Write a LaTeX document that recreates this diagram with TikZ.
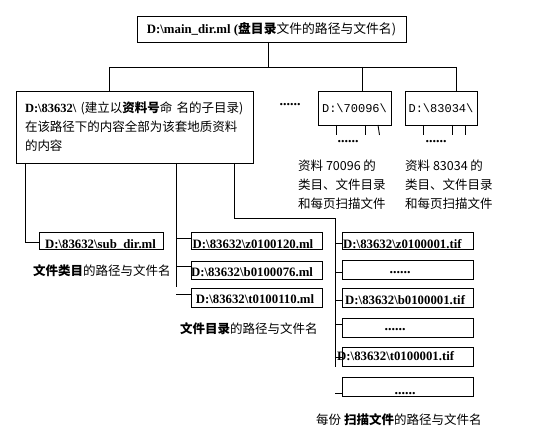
\documentclass[tikz,border=0pt]{standalone}
\usepackage{fontspec}
\setmainfont{Liberation Serif}
\newfontfamily\cjk{Noto Sans CJK SC}
\newfontfamily\monof{Liberation Mono}
\newcommand\bs{\textbackslash}
\begin{document}
\begin{tikzpicture}[x=1pt,y=-1pt,
  bx/.style={draw, line width=0.9pt, inner sep=0pt, outer sep=0pt},
  ln/.style={line width=0.9pt},
  lat/.style={font=\fontsize{12.8}{15}\selectfont\bfseries, inner sep=0pt},
  zh/.style={font=\fontsize{12.5}{19}\selectfont\cjk, inner sep=0pt, align=left},
  dts/.style={font=\fontsize{14}{15}\selectfont\bfseries, inner sep=0pt},
]
\useasboundingbox (0,0) rectangle (558,435);

% top box
\node[bx, minimum width=269pt, minimum height=26pt, font=\fontsize{12.8}{15}\selectfont] (top) at (271.5,29)
  {\textbf{D:\bs main\_dir.ml (}{\cjk\bfseries 盘目录}{\cjk 文件的路径与文件名)}};

% directory box
\node[bx, minimum width=237pt, minimum height=72pt, align=left, text width=219pt,
      font=\fontsize{12.5}{19}\selectfont] (dir) at (134.5,127)
  {\textbf{D:\bs 83632\bs}~{\cjk (建立以\textbf{资料号}命~名的子目录)}\\
   {\cjk 在该路径下的内容全部为该套地质资料}\\
   {\cjk 的内容}};

\node[bx, minimum width=73pt, minimum height=34pt, font=\monof\fontsize{12}{14}\selectfont] (d70) at (354.5,108) {D:\bs 70096\bs};
\node[bx, minimum width=72pt, minimum height=34pt, font=\monof\fontsize{12}{14}\selectfont] (d83) at (441,108) {D:\bs 83034\bs};

\node[dts] (dots0) at (290,105) {......};

% bus
\coordinate (busT) at (268,42);
\coordinate (busL) at (109,67);
\coordinate (busR) at (456,67);
\coordinate (bus70) at (362,67);
\draw[ln] (busT) -- (busT |- busL);
\draw[ln] (busL) -- (busR);
\draw[ln] (busL) -- (busL |- dir.north);
\draw[ln] (bus70) -- (bus70 |- d70.north);
\draw[ln] (busR) -- (busR |- d83.north);

% stubs below the other directories
\draw[ln] ([xshift=-18.5pt]d70.south) -- ++(0,10);
\draw[ln] ([xshift=10.5pt]d70.south) -- ++(0,10);
\draw[ln] ([xshift=23.5pt]d70.south) -- ++(1.5,10);
\draw[ln] ([xshift=-18pt]d83.south) -- ++(0,10);
\draw[ln] ([xshift=11pt]d83.south) -- ++(0,10);
\draw[ln] ([xshift=24pt]d83.south) -- ++(0,10);
\node[dts] (dots70) at (348,142) {......};
\node[dts] (dots83) at (436,142) {......};

\node[zh, anchor=west] (t70) at (298,185) {资料 70096 的\\类目、文件目录\\和每页扫描文件};
\node[zh, anchor=west] (t83) at (405,185) {资料 83034 的\\类目、文件目录\\和每页扫描文件};

% sub_dir
\node[bx, minimum width=124pt, minimum height=17pt] (sd) at (101,240.5) {};
\node[lat, anchor=base] (sdt) at (100.5,249) {D:\bs 83632\bs sub\_dir.ml};
\node[zh, anchor=west] (cap1) at (33,271) {\textbf{文件类目}的路径与文件名};

% ml boxes
\node[bx, minimum width=131pt, minimum height=17pt] (mlz) at (256.5,240.5) {};
\node[bx, minimum width=131pt, minimum height=18pt] (mlb) at (256.5,270) {};
\node[bx, minimum width=131pt, minimum height=19pt] (mlt) at (256.5,297.5) {};
\node[lat, anchor=base] (mlzt) at (253,249) {D:\bs 83632\bs z0100120.ml};
\node[lat, anchor=base] (mlbt) at (252,277) {D:\bs 83632\bs b0100076.ml};
\node[lat, anchor=base] (mltt) at (255,304) {D:\bs 83632\bs t0100110.ml};
\node[zh, anchor=west] (cap2) at (180,329) {\textbf{文件目录}的路径与文件名};

% tif boxes
\node[bx, minimum width=131pt, minimum height=17pt] (tz) at (407.5,240.5) {};
\node[bx, minimum width=131pt, minimum height=19pt] (tzd) at (407.5,269.5) {};
\node[bx, minimum width=131pt, minimum height=19pt] (tb) at (407.5,297.5) {};
\node[bx, minimum width=131pt, minimum height=19pt] (tbd) at (407.5,327.5) {};
\node[bx, minimum width=131pt, minimum height=19pt] (tt) at (407.5,356.5) {};
\node[bx, minimum width=131pt, minimum height=19pt] (ttd) at (407.5,386.5) {};
\node[lat, anchor=base west] (tzt) at (343,249) {D:\bs 83632\bs z0100001.tif};
\node[lat, anchor=base west] (tbt) at (345,305) {D:\bs 83632\bs b0100001.tif};
\node[lat, anchor=base west] (ttt) at (337,361) {D:\bs 83632\bs t0100001.tif};
\node[dts, anchor=base] (tzdt) at (400,273.5) {......};
\node[dts, anchor=base] (tbdt) at (395,330.5) {......};
\node[dts, anchor=base] (ttdt) at (405,394.5) {......};
\node[zh, anchor=west] (cap3) at (316,420) {每份~\textbf{扫描文件}的路径与文件名};

% left connector
\coordinate (c1) at (25,242);
\draw[ln] (dir.south -| c1) -- (c1) -- (c1 -| sd.west);

% middle connector
\coordinate (m0) at (176,287);
\coordinate (mz) at (176,238);
\coordinate (mb) at (176,266);
\coordinate (mt) at (176,294);
\draw[ln] (dir.south -| m0) -- (m0);
\draw[ln] (mz) -- (mz -| mlz.west);
\draw[ln] (mb) -- (mb -| mlb.west);
\draw[ln] (mt) -- (mt -| mlt.west);

% right connector
\coordinate (r1) at (234,218);
\coordinate (r2) at (335,218);
\coordinate (r3) at (335,367);
\draw[ln] (dir.south -| r1) -- (r1) -- (r2) -- (r3);
\coordinate (b1) at (335,243);
\coordinate (b2) at (335,272);
\coordinate (b3) at (335,300);
\coordinate (b4) at (335,324);
\coordinate (b5) at (335,357);
\coordinate (b6) at (335,393);
\draw[ln] (b1) -- (b1 -| tz.west);
\draw[ln] (b2) -- (b2 -| tzd.west);
\draw[ln] (b3) -- (b3 -| tb.west);
\draw[ln] (b4) -- (b4 -| tbd.west);
\draw[ln] (b5) -- (b5 -| tt.west);
\draw[ln] (b6) -- (b6 -| ttd.west);
\end{tikzpicture}
\end{document}
